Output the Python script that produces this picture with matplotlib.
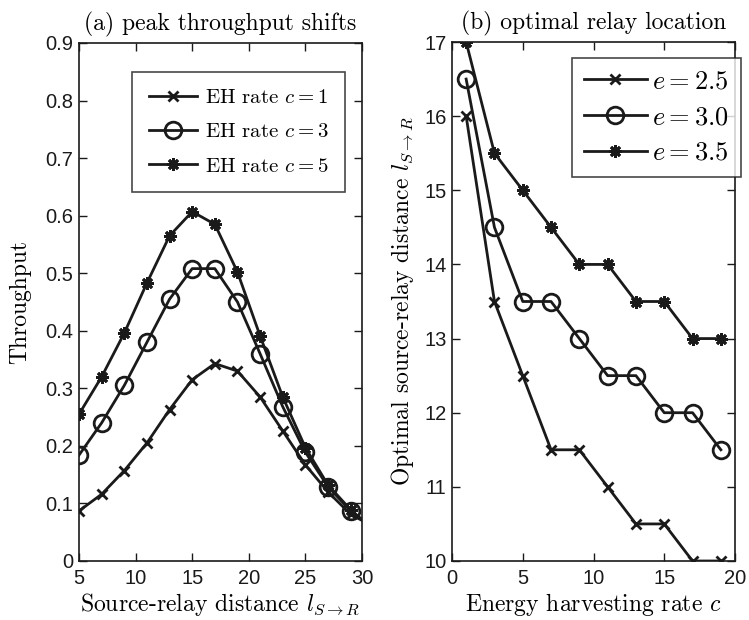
import numpy as np
import matplotlib
matplotlib.use("Agg")
import matplotlib.pyplot as plt

# (a) throughput vs source-relay distance
dist = [5, 7, 9, 11, 13, 15, 17, 19, 21, 23, 25, 27, 29, 31]
thr_c1 = [0.087, 0.116, 0.157, 0.205, 0.263, 0.315, 0.343, 0.330, 0.285, 0.226, 0.167, 0.120, 0.081, 0.060]
thr_c3 = [0.184, 0.240, 0.305, 0.380, 0.455, 0.508, 0.508, 0.450, 0.360, 0.268, 0.189, 0.129, 0.087, 0.056]
thr_c5 = [0.255, 0.320, 0.396, 0.483, 0.565, 0.607, 0.585, 0.502, 0.391, 0.285, 0.197, 0.132, 0.089, 0.055]

# (b) optimal relay location vs EH rate
rate = [1, 3, 5, 7, 9, 11, 13, 15, 17, 19]
opt_e25 = [16, 13.5, 12.5, 11.5, 11.5, 11, 10.5, 10.5, 10, 10]
opt_e30 = [16.5, 14.5, 13.5, 13.5, 13, 12.5, 12.5, 12, 12, 11.5]
opt_e35 = [17, 15.5, 15, 14.5, 14, 14, 13.5, 13.5, 13, 13]

plt.rcParams["mathtext.fontset"] = "cm"
serif = "cmr10"
tickfont = "Liberation Sans"
col = "#1a1a1a"
star = (8, 2, 0)

fig = plt.figure(figsize=(7.49, 6.2), dpi=100)
ax1 = fig.add_axes([79/749, 1 - 561/620, 283/749, 518/620])
ax2 = fig.add_axes([452/749, 1 - 561/620, 283/749, 519/620])

kw = dict(color=col, lw=2, mew=2)
ax1.plot(dist, thr_c1, marker="x", ms=7, label="EH rate $c=1$", **kw)
ax1.plot(dist, thr_c3, marker="o", ms=12, mfc="none", label="EH rate $c=3$", **kw)
ax1.plot(dist, thr_c5, marker=star, ms=9, label="EH rate $c=5$", **kw)
ax1.set_xlim(5, 30)
ax1.set_ylim(0, 0.9)
ax1.set_xticks([5, 10, 15, 20, 25, 30])
ax1.set_yticks(np.arange(0, 0.91, 0.1))
ax1.set_yticklabels(["0"] + ["%.1f" % v for v in np.arange(0.1, 0.91, 0.1)])
ax1.set_title("(a) peak throughput shifts", family=serif, fontsize=17, pad=9)
ax1.set_xlabel(r"Source-relay distance $l_{S\to R}$", family=serif, fontsize=17, labelpad=2)
ax1.set_ylabel("Throughput", family=serif, fontsize=17, labelpad=10)
leg1 = ax1.legend(loc="upper right", bbox_to_anchor=(0.94, 0.944), borderaxespad=0,
                  prop={"family": serif, "size": 15},
                  fancybox=False, edgecolor=col, handlelength=2.35, borderpad=0.8, labelspacing=0.75,
                  handletextpad=0.35)
leg1.get_frame().set_linewidth(1.2)

ax2.plot(rate, opt_e25, marker="x", ms=7, label="$e=2.5$", **kw)
ax2.plot(rate, opt_e30, marker="o", ms=12, mfc="none", label="$e=3.0$", **kw)
ax2.plot(rate, opt_e35, marker=star, ms=9, label="$e=3.5$", **kw)
ax2.set_xlim(0, 20)
ax2.set_ylim(10, 17)
ax2.set_xticks([0, 5, 10, 15, 20])
ax2.set_yticks(range(10, 18))
ax2.set_title("(b) optimal relay location", family=serif, fontsize=17, pad=9)
ax2.set_xlabel("Energy harvesting rate $c$", family=serif, fontsize=17, labelpad=2)
ax2.set_ylabel(r"Optimal source-relay distance $l_{S\to R}$", family=serif, fontsize=17, labelpad=6)
leg2 = ax2.legend(loc="upper right", bbox_to_anchor=(1.021, 0.969), borderaxespad=0,
                  prop={"family": serif, "size": 19},
                  fancybox=False, edgecolor=col, handlelength=2.4, borderpad=0.45, labelspacing=0.45,
                  handletextpad=0.2)
leg2.get_frame().set_linewidth(1.2)

for ax in (ax1, ax2):
    for s in ax.spines.values():
        s.set_linewidth(1.2)
        s.set_color(col)
    ax.tick_params(direction="in", top=True, right=True, length=6, width=1, labelsize=14.5, colors=col, pad=4)
    ax.tick_params(axis="x", pad=6)
    for lab in ax.get_xticklabels() + ax.get_yticklabels():
        lab.set_family(tickfont)

fig.savefig("out.png", dpi=100)
